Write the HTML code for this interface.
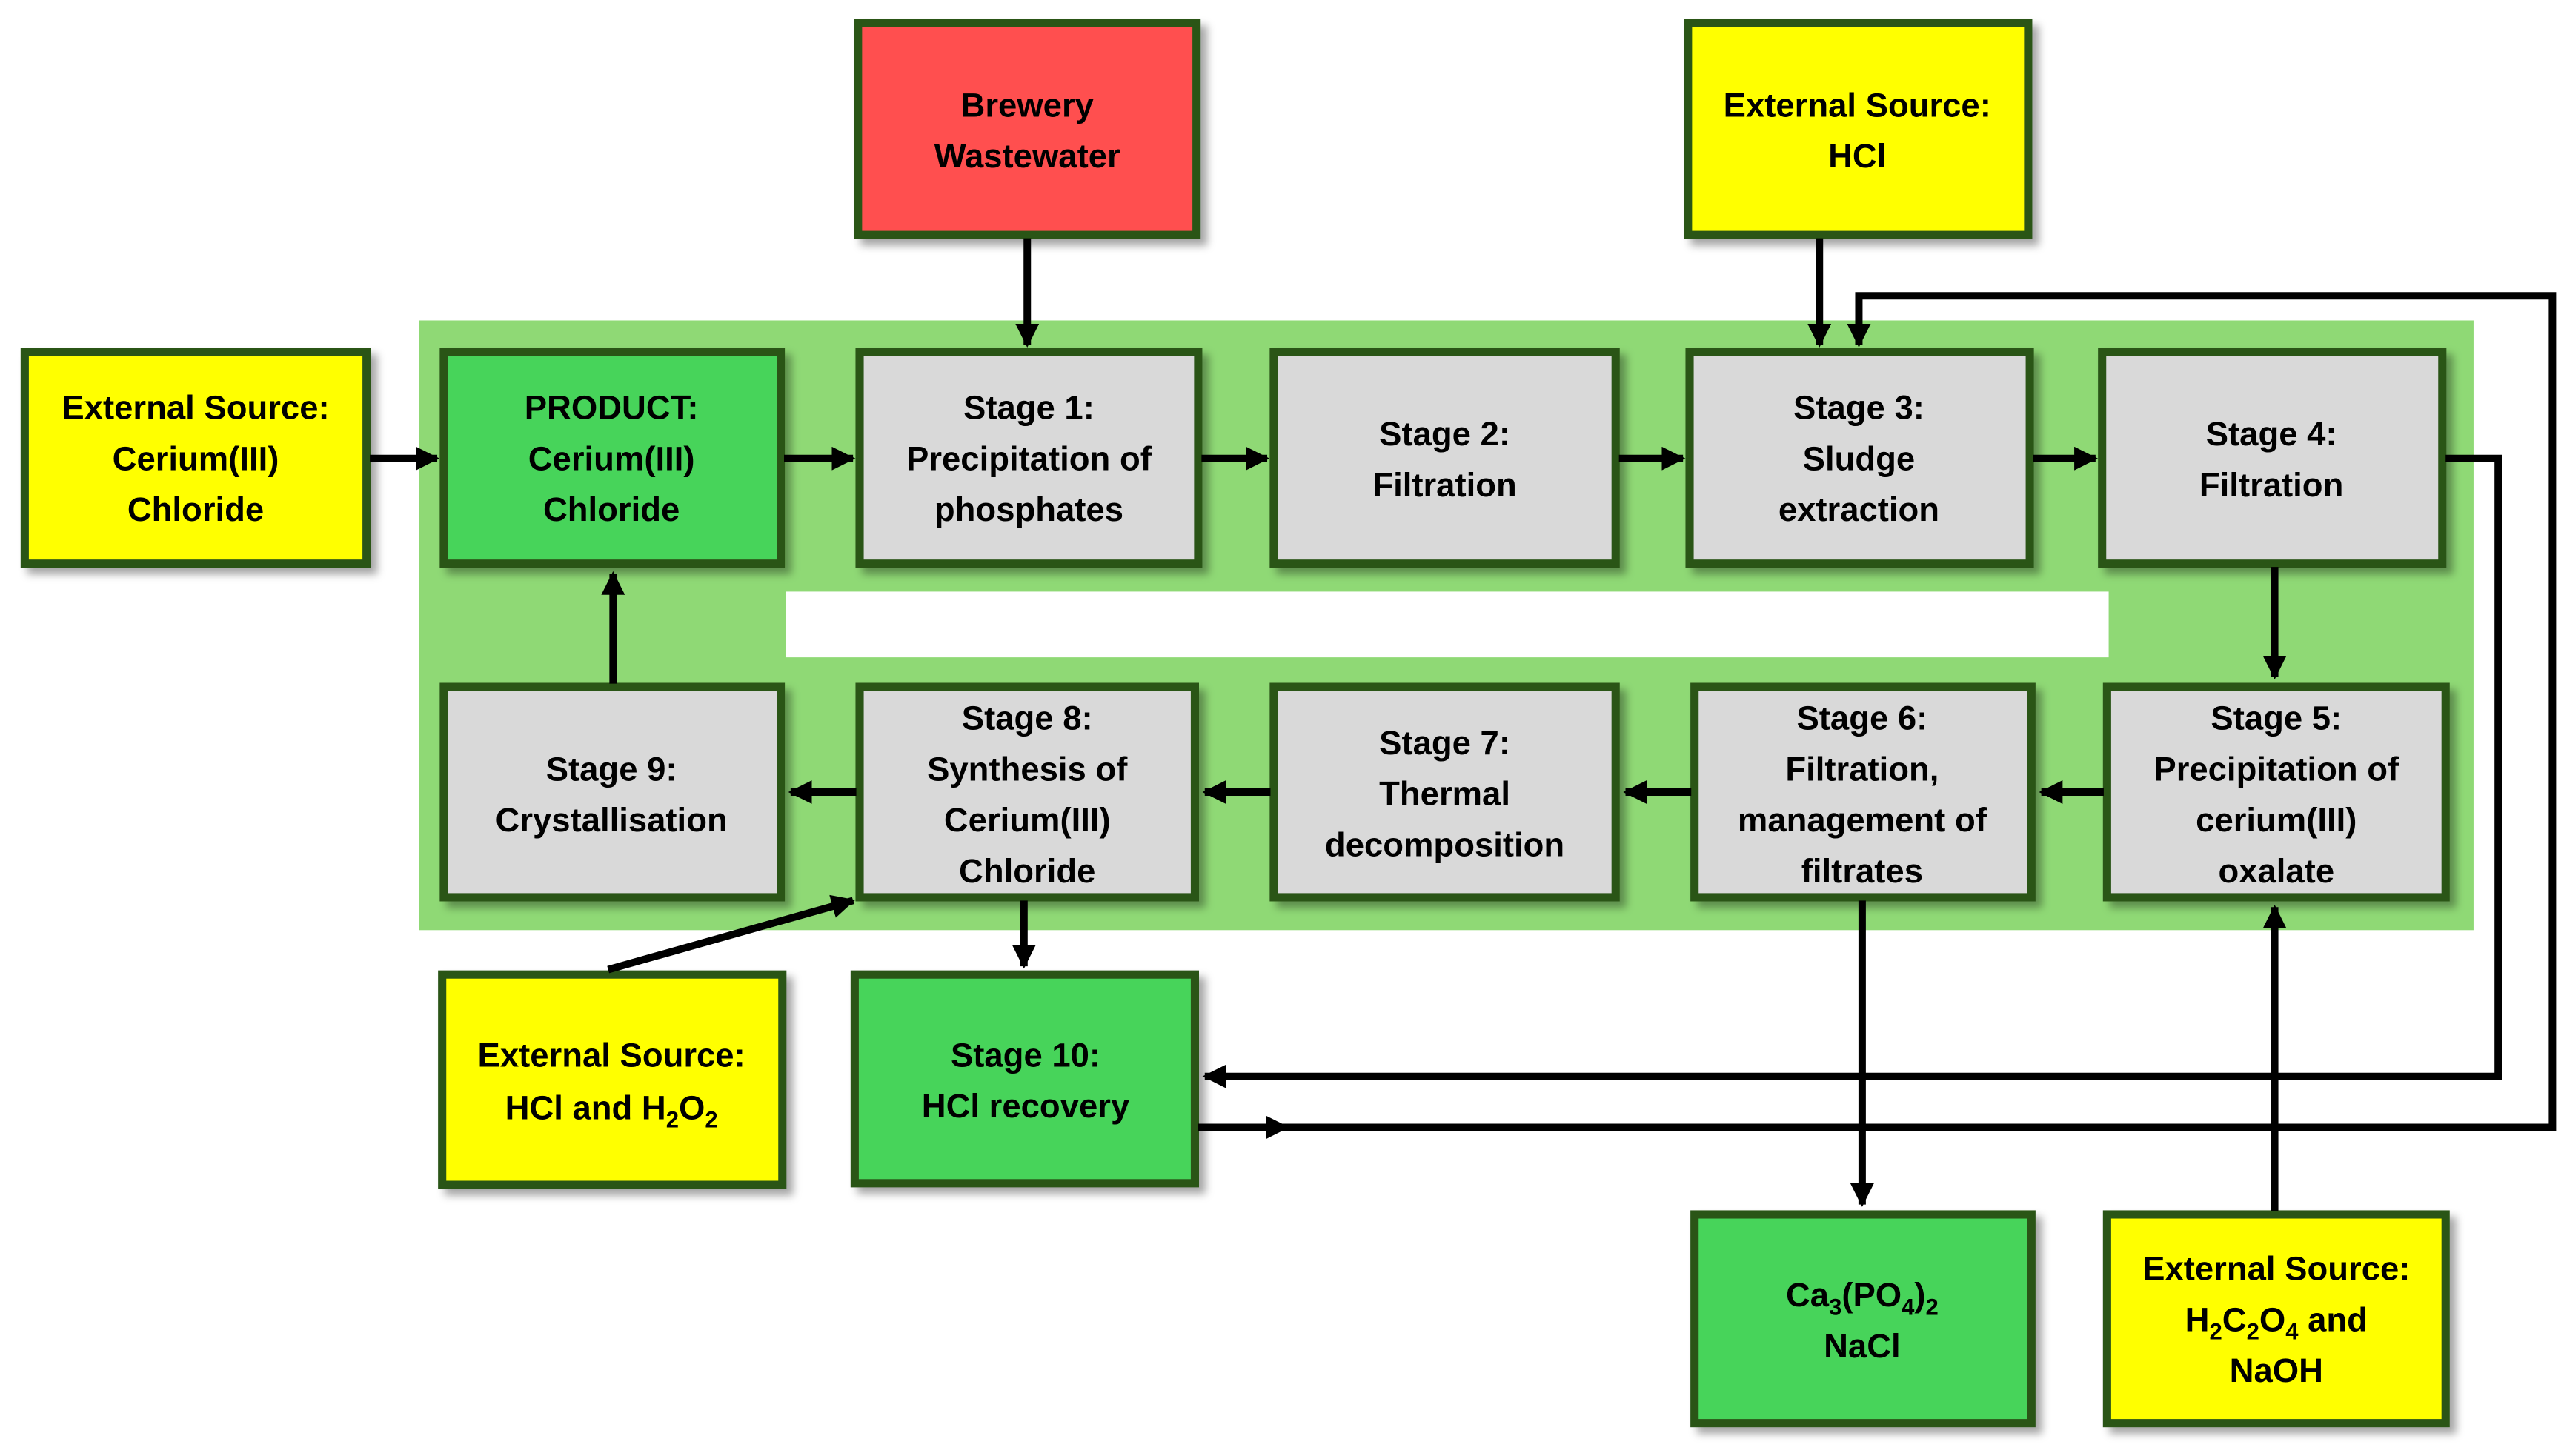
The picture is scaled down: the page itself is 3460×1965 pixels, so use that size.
<!DOCTYPE html>
<html><head><meta charset="utf-8"><style>
html,body{margin:0;padding:0;background:#fff;}
svg{display:block;}
text{font-family:"Liberation Sans",Arial,sans-serif;font-weight:bold;font-size:20.5px;fill:#000;text-anchor:middle;}
</style></head><body>
<svg width="3460" height="1965" viewBox="0 0 1560 886" xmlns="http://www.w3.org/2000/svg">
<defs>
<marker id="a" viewBox="0 0 10 10" refX="9" refY="5" markerWidth="3.2" markerHeight="3.2" orient="auto" markerUnits="strokeWidth"><path d="M0,0 L10,5 L0,10 z" fill="#000"/></marker>
<filter id="sh" x="-10%" y="-10%" width="130%" height="130%"><feDropShadow dx="4" dy="4" stdDeviation="2.5" flood-color="#000" flood-opacity="0.35"/></filter>
</defs>
<rect x="255" y="195" width="1250" height="371" fill="#8fd975"/>
<rect x="478" y="360" width="805" height="40" fill="#fff"/>
<g stroke="#2b5419" stroke-width="5" filter="url(#sh)">
<rect x="15" y="214" width="208" height="129" fill="#ffff00"/>
<rect x="270" y="214" width="205" height="129" fill="#47d45a"/>
<rect x="523" y="214" width="206" height="129" fill="#d9d9d9"/>
<rect x="775" y="214" width="208" height="129" fill="#d9d9d9"/>
<rect x="1028" y="214" width="207" height="129" fill="#d9d9d9"/>
<rect x="1279" y="214" width="207" height="129" fill="#d9d9d9"/>
<rect x="270" y="418" width="205" height="128" fill="#d9d9d9"/>
<rect x="523" y="418" width="204" height="128" fill="#d9d9d9"/>
<rect x="775" y="418" width="208" height="128" fill="#d9d9d9"/>
<rect x="1031" y="418" width="205" height="128" fill="#d9d9d9"/>
<rect x="1282" y="418" width="206" height="128" fill="#d9d9d9"/>
<rect x="522" y="14" width="206" height="129" fill="#ff5050"/>
<rect x="1027" y="14" width="207" height="129" fill="#ffff00"/>
<rect x="269" y="593" width="207" height="128" fill="#ffff00"/>
<rect x="520" y="593" width="207" height="127" fill="#47d45a"/>
<rect x="1031" y="739" width="205" height="127" fill="#47d45a"/>
<rect x="1282" y="739" width="206" height="127" fill="#ffff00"/>
</g>
<g stroke="#000" stroke-width="4.5" fill="none">
<line x1="625" y1="145" x2="625" y2="210" marker-end="url(#a)"/>
<line x1="1107" y1="145" x2="1107" y2="210" marker-end="url(#a)"/>
<line x1="225" y1="279" x2="266" y2="279" marker-end="url(#a)"/>
<line x1="477" y1="279" x2="519" y2="279" marker-end="url(#a)"/>
<line x1="731" y1="279" x2="771" y2="279" marker-end="url(#a)"/>
<line x1="985" y1="279" x2="1024" y2="279" marker-end="url(#a)"/>
<line x1="1237" y1="279" x2="1275" y2="279" marker-end="url(#a)"/>
<line x1="1384" y1="345" x2="1384" y2="412" marker-end="url(#a)"/>
<line x1="1280" y1="482" x2="1242" y2="482" marker-end="url(#a)"/>
<line x1="1029" y1="482" x2="989" y2="482" marker-end="url(#a)"/>
<line x1="773" y1="482" x2="733" y2="482" marker-end="url(#a)"/>
<line x1="521" y1="482" x2="481" y2="482" marker-end="url(#a)"/>
<line x1="373" y1="416" x2="373" y2="349" marker-end="url(#a)"/>
<line x1="623" y1="548" x2="623" y2="588" marker-end="url(#a)"/>
<line x1="370" y1="590" x2="519" y2="548" marker-end="url(#a)"/>
<line x1="1133" y1="548" x2="1133" y2="733" marker-end="url(#a)"/>
<line x1="1384" y1="737" x2="1384" y2="552" marker-end="url(#a)"/>
<polyline points="1488,279 1520,279 1520,655 733,655" marker-end="url(#a)"/>
<line x1="729" y1="686" x2="783" y2="686" marker-end="url(#a)"/>
<polyline points="780,686 1553,686 1553,180 1131,180 1131,210" marker-end="url(#a)"/>
</g>
<text x="625" y="71">Brewery</text><text x="625" y="102">Wastewater</text>
<text x="1130" y="71">External Source:</text><text x="1130" y="102">HCl</text>
<text x="119" y="255">External Source:</text><text x="119" y="286">Cerium(III)</text><text x="119" y="317">Chloride</text>
<text x="372" y="255">PRODUCT:</text><text x="372" y="286">Cerium(III)</text><text x="372" y="317">Chloride</text>
<text x="626" y="255">Stage 1:</text><text x="626" y="286">Precipitation of</text><text x="626" y="317">phosphates</text>
<text x="879" y="271">Stage 2:</text><text x="879" y="302">Filtration</text>
<text x="1131" y="255">Stage 3:</text><text x="1131" y="286">Sludge</text><text x="1131" y="317">extraction</text>
<text x="1382" y="271">Stage 4:</text><text x="1382" y="302">Filtration</text>
<text x="372" y="475">Stage 9:</text><text x="372" y="506">Crystallisation</text>
<text x="625" y="444">Stage 8:</text><text x="625" y="475">Synthesis of</text><text x="625" y="506">Cerium(III)</text><text x="625" y="537">Chloride</text>
<text x="879" y="459">Stage 7:</text><text x="879" y="490">Thermal</text><text x="879" y="521">decomposition</text>
<text x="1133" y="444">Stage 6:</text><text x="1133" y="475">Filtration,</text><text x="1133" y="506">management of</text><text x="1133" y="537">filtrates</text>
<text x="1385" y="444">Stage 5:</text><text x="1385" y="475">Precipitation of</text><text x="1385" y="506">cerium(III)</text><text x="1385" y="537">oxalate</text>
<text x="372" y="649">External Source:</text><text x="372" y="681">HCl and H<tspan font-size="14" dy="5">2</tspan><tspan dy="-5">O</tspan><tspan font-size="14" dy="5">2</tspan></text>
<text x="624" y="649">Stage 10:</text><text x="624" y="680">HCl recovery</text>
<text x="1133" y="795">Ca<tspan font-size="14" dy="5">3</tspan><tspan dy="-5">(PO</tspan><tspan font-size="14" dy="5">4</tspan><tspan dy="-5">)</tspan><tspan font-size="14" dy="5">2</tspan></text><text x="1133" y="826">NaCl</text>
<text x="1385" y="779">External Source:</text><text x="1385" y="810">H<tspan font-size="14" dy="5">2</tspan><tspan dy="-5">C</tspan><tspan font-size="14" dy="5">2</tspan><tspan dy="-5">O</tspan><tspan font-size="14" dy="5">4</tspan><tspan dy="-5"> and</tspan></text><text x="1385" y="841">NaOH</text>
</svg>
</body></html>
